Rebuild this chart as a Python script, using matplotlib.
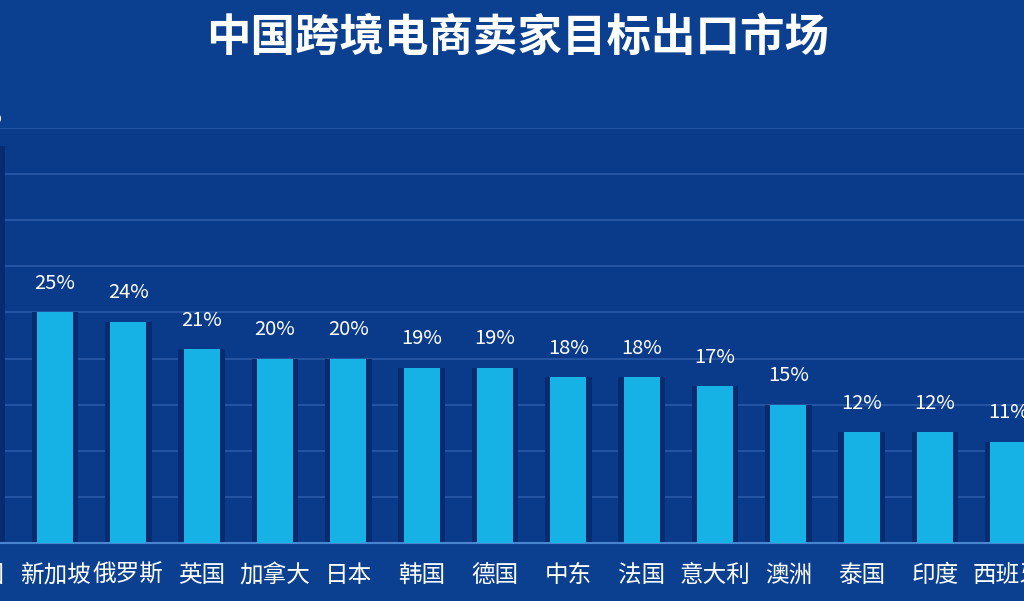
import matplotlib
matplotlib.use('Agg')
import matplotlib.pyplot as plt
import numpy as np

plt.rcParams['font.family'] = ['Noto Sans CJK SC', 'DejaVu Sans']

# Data (first and last categories are partly cut off at the picture edges)
markets = ['美国', '新加坡', '俄罗斯', '英国', '加拿大', '日本', '韩国', '德国',
           '中东', '法国', '意大利', '澳洲', '泰国', '印度', '西班牙']
shares = [43, 25, 24, 21, 20, 20, 19, 19, 18, 18, 17, 15, 12, 12, 11]
title = '中国跨境电商卖家目标出口市场'

bg = '#0b3f90'
plot_bg = '#0a3a8a'
bar_color = '#16b2e6'
shadow_color = '#082a6e'
grid_color = '#2b5ba8'

fig = plt.figure(figsize=(10.24, 6.01), dpi=100, facecolor=bg)
# axes wider than the figure so the outer bars get cropped like the reference
ax = fig.add_axes([-55 / 1024, 58 / 601, 1100 / 1024, 415 / 601])
ax.set_facecolor(plot_bg)

x = np.arange(len(markets))
ax.bar(x, shares, width=0.64, color=shadow_color, zorder=2)
bars = ax.bar(x, shares, width=0.49, color=bar_color, zorder=3)

for xi, v in zip(x, shares):
    ax.text(xi, v + 2.0, f'{v}%', ha='center', va='bottom', color='white',
            fontsize=14.5, zorder=4)

ax.set_xlim(-0.5, len(markets) - 0.5)
ax.set_ylim(0, 45)
ax.set_yticks(np.arange(0, 46, 5))
ax.yaxis.grid(True, color=grid_color, linewidth=1.2, zorder=1)
ax.set_axisbelow(True)
ax.tick_params(axis='y', left=False, labelleft=False)
ax.set_xticks(x)
ax.set_xticklabels(markets, color='white', fontsize=17)
ax.tick_params(axis='x', length=0, pad=15)
for s in ['top', 'right', 'left']:
    ax.spines[s].set_visible(False)
ax.spines['bottom'].set_color('#4a86d0')
ax.spines['bottom'].set_linewidth(1.5)

fig.text(0.505, 0.937, title, ha='center', va='center', color='white',
         fontsize=32, fontweight='bold')

fig.savefig('out.png', dpi=100, facecolor=bg)
